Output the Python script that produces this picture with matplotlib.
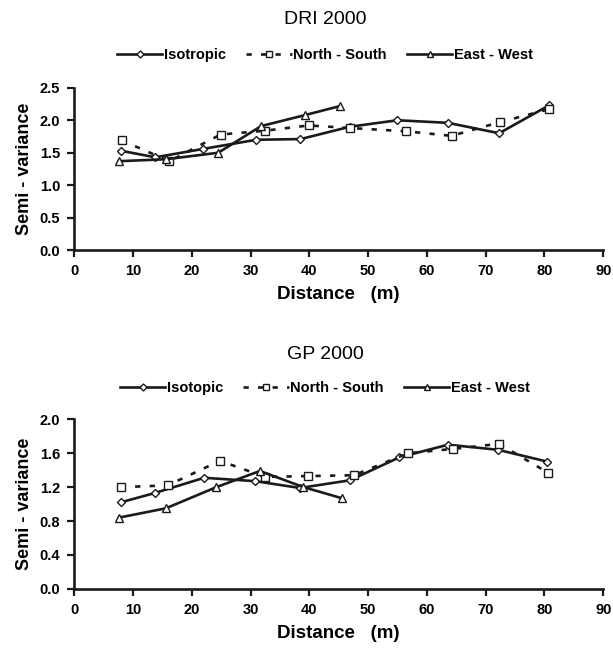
import matplotlib.pyplot as plt

# DRI 2000
dri_iso_x = [8.0, 13.8, 22.0, 31.0, 38.5, 46.9, 55.0, 63.6, 72.3, 80.8]
dri_iso_y = [1.53, 1.43, 1.56, 1.70, 1.71, 1.90, 2.00, 1.96, 1.80, 2.23]
dri_ns_x = [8.1, 16.2, 24.9, 32.5, 39.9, 47.0, 56.5, 64.2, 72.4, 80.8]
dri_ns_y = [1.69, 1.37, 1.78, 1.84, 1.92, 1.88, 1.83, 1.76, 1.97, 2.17]
dri_ew_x = [7.6, 15.6, 24.5, 31.8, 39.3, 45.3]
dri_ew_y = [1.37, 1.40, 1.50, 1.91, 2.08, 2.22]

# GP 2000
gp_iso_x = [7.9, 13.7, 22.1, 30.8, 38.4, 46.9, 55.3, 63.6, 72.1, 80.5]
gp_iso_y = [1.02, 1.13, 1.31, 1.27, 1.19, 1.28, 1.55, 1.70, 1.64, 1.50]
gp_ns_x = [7.9, 15.9, 24.8, 32.5, 39.8, 47.6, 56.8, 64.4, 72.3, 80.6]
gp_ns_y = [1.20, 1.22, 1.51, 1.32, 1.33, 1.34, 1.60, 1.65, 1.71, 1.37]
gp_ew_x = [7.6, 15.6, 24.2, 31.6, 39.0, 45.5]
gp_ew_y = [0.84, 0.95, 1.20, 1.39, 1.20, 1.07]

plt.rcParams['font.family'] = ['Liberation Sans', 'DejaVu Sans']
ink = '#1a1a1a'

fig = plt.figure(figsize=(6.13, 6.5), dpi=100)


def panel(rect, title, title_y, leg_y, iso_label, data, ymax, ystep):
    ax = fig.add_axes(rect)
    iso_x, iso_y, ns_x, ns_y, ew_x, ew_y = data
    ax.plot(iso_x, iso_y, color=ink, lw=1.9, marker='D', ms=4.2,
            mfc='white', mec=ink, mew=1.0, label=iso_label)
    ax.plot(ns_x, ns_y, color=ink, lw=1.9, ls=(0, (2, 3.5)), marker='s',
            ms=5.5, mfc='white', mec=ink, mew=1.0, label='North - South')
    ax.plot(ew_x, ew_y, color=ink, lw=1.9, marker='^', ms=5.8,
            mfc='white', mec=ink, mew=1.0, label='East - West')

    ax.set_xlim(0, 90)
    ax.set_ylim(0, ymax)
    ax.set_xticks(range(0, 91, 10))
    yt = [i * ystep for i in range(int(round(ymax / ystep)) + 1)]
    ax.set_yticks(yt)
    ax.set_yticklabels(['%.1f' % v for v in yt])
    for s in ['top', 'right']:
        ax.spines[s].set_visible(False)
    for s in ['left', 'bottom']:
        ax.spines[s].set_linewidth(1.9)
        ax.spines[s].set_color(ink)
    ax.tick_params(direction='out', length=5, width=1.6, color=ink,
                   labelsize=10.5, pad=5)
    for t in ax.get_xticklabels() + ax.get_yticklabels():
        t.set_fontweight('bold')
    ax.set_xlabel('Distance   (m)', fontsize=13.5, fontweight='bold', labelpad=6)
    ax.set_ylabel('Semi - variance', fontsize=13, fontweight='bold', labelpad=5)

    fig.text(0.53, title_y, title, ha='center', va='center', fontsize=14)
    ax.legend(loc='center', bbox_to_anchor=(0.53, leg_y),
              bbox_transform=fig.transFigure, ncol=3, frameon=False,
              handlelength=3.1, handletextpad=0.1, columnspacing=1.4,
              markerscale=0.85, prop={'weight': 'bold', 'size': 10.5})
    return ax


panel([0.121, 0.615, 0.863, 0.25], 'DRI 2000', 0.97, 0.915, 'Isotropic',
      (dri_iso_x, dri_iso_y, dri_ns_x, dri_ns_y, dri_ew_x, dri_ew_y), 2.5, 0.5)
panel([0.121, 0.094, 0.863, 0.261], 'GP 2000', 0.455, 0.403, 'Isotopic',
      (gp_iso_x, gp_iso_y, gp_ns_x, gp_ns_y, gp_ew_x, gp_ew_y), 2.0, 0.4)

fig.savefig('out.png', dpi=100)
